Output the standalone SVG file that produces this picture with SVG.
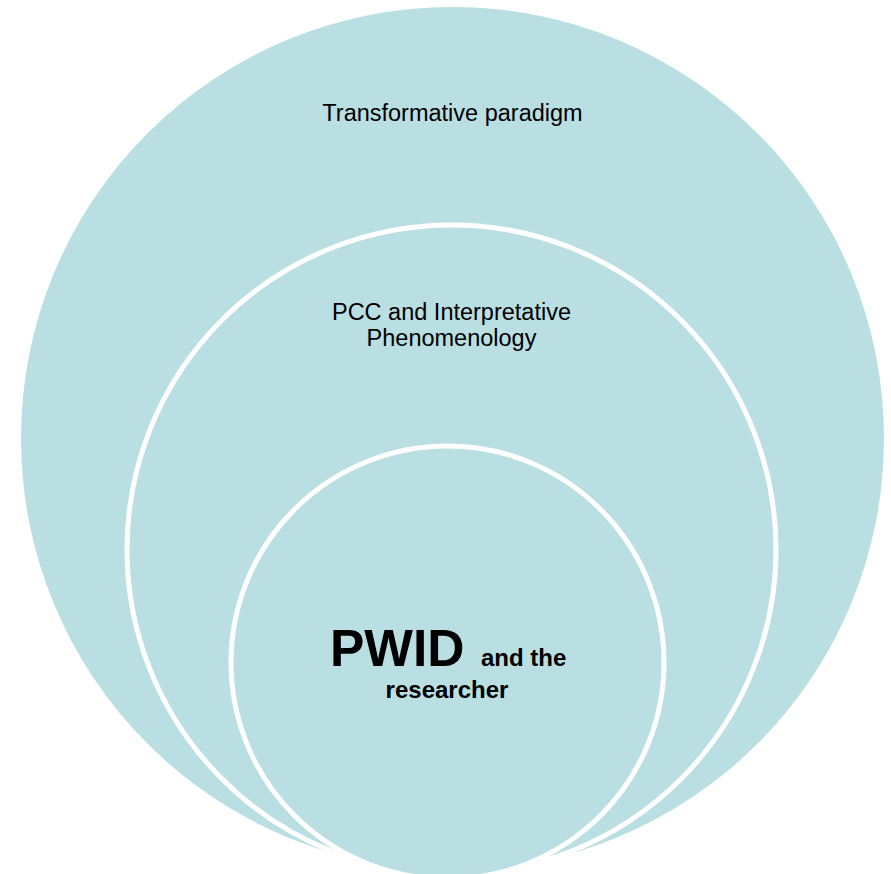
<svg xmlns="http://www.w3.org/2000/svg" width="891" height="874" viewBox="0 0 891 874">
  <style>
    .ring { fill: #B9DFE2; stroke: #FFFFFF; stroke-width: 5; }
    .label { font-family: "Liberation Sans", Arial, sans-serif; fill: #000000; }
    .reg { font-size: 23.5px; }
    .bold { font-weight: bold; }
  </style>
  <rect width="891" height="874" fill="#FFFFFF"/>

  <!-- outermost layer -->
  <g id="transformative-paradigm">
    <circle cx="452.5" cy="438.5" r="431.5" fill="#B9DFE2"/>
    <text class="label reg" x="452.5" y="121" text-anchor="middle">Transformative paradigm</text>
  </g>

  <!-- middle layer -->
  <g id="pcc-phenomenology">
    <circle class="ring" cx="451.5" cy="549.5" r="324.5"/>
    <text class="label reg" x="451.5" y="320" text-anchor="middle">PCC and Interpretative</text>
    <text class="label reg" x="451.5" y="346" text-anchor="middle">Phenomenology</text>
  </g>

  <!-- core layer -->
  <g id="pwid-researcher">
    <circle class="ring" cx="447.5" cy="662.5" r="216.5"/>
    <text class="label bold" x="330" y="666" font-size="51.5">PWID</text>
    <text class="label bold" x="481" y="666" font-size="24">and the</text>
    <text class="label bold" x="447" y="698" font-size="24" text-anchor="middle">researcher</text>
  </g>

  <g id="connectors"/>
</svg>
